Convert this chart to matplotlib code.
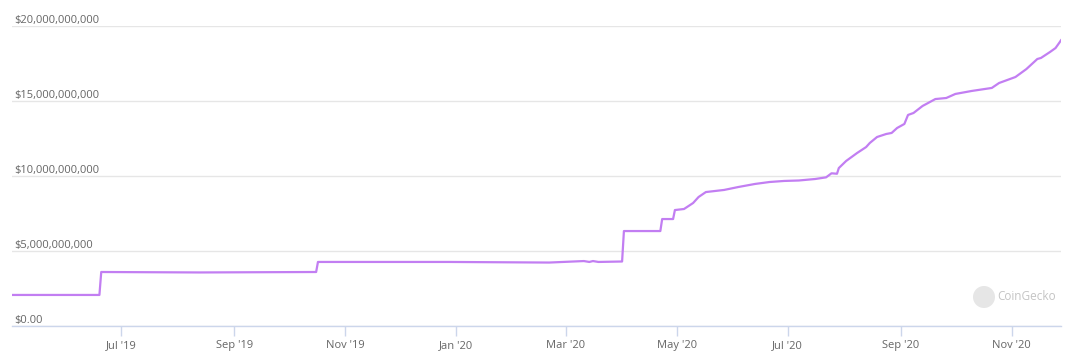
import matplotlib
matplotlib.use("Agg")
import matplotlib.pyplot as plt
import matplotlib.dates as mdates
from matplotlib.patches import Circle
import pandas as pd

# values (billions USD)
dates = [
    "2019-05-02", "2019-06-19", "2019-06-20", "2019-08-13", "2019-10-16",
    "2019-10-17", "2019-12-28", "2020-02-21", "2020-03-11", "2020-03-14",
    "2020-03-16", "2020-03-19", "2020-04-01", "2020-04-02", "2020-04-22",
    "2020-04-23", "2020-04-29", "2020-04-30", "2020-05-05", "2020-05-10",
    "2020-05-13", "2020-05-17", "2020-05-22", "2020-05-27", "2020-06-04",
    "2020-06-13", "2020-06-21", "2020-06-29", "2020-07-07", "2020-07-16",
    "2020-07-22", "2020-07-25", "2020-07-28", "2020-07-29", "2020-08-02",
    "2020-08-08", "2020-08-13", "2020-08-15", "2020-08-19", "2020-08-24",
    "2020-08-27", "2020-08-30", "2020-09-03", "2020-09-05", "2020-09-08",
    "2020-09-13", "2020-09-15", "2020-09-20", "2020-09-26", "2020-10-01",
    "2020-10-10", "2020-10-21", "2020-10-25", "2020-11-03", "2020-11-09",
    "2020-11-15", "2020-11-17", "2020-11-22", "2020-11-25", "2020-11-27",
    "2020-11-28",
]
values_bn = [
    2.07, 2.07, 3.60, 3.57, 3.60,
    4.27, 4.27, 4.23, 4.33, 4.27,
    4.33, 4.27, 4.30, 6.33, 6.33,
    7.13, 7.13, 7.73, 7.80, 8.20,
    8.60, 8.93, 9.00, 9.07, 9.27,
    9.47, 9.60, 9.67, 9.70, 9.80,
    9.91, 10.18, 10.15, 10.53, 11.00,
    11.53, 11.93, 12.20, 12.60, 12.80,
    12.87, 13.20, 13.47, 14.07, 14.20,
    14.67, 14.80, 15.13, 15.20, 15.47,
    15.67, 15.87, 16.20, 16.60, 17.13,
    17.80, 17.87, 18.27, 18.53, 18.87,
    19.05,
]
y_ticks = [0, 5e9, 10e9, 15e9, 20e9]

x = pd.to_datetime(dates)
y = [v * 1e9 for v in values_bn]

W, H = 1080, 359
fig = plt.figure(figsize=(W / 100, H / 100), dpi=100)
ax = fig.add_axes([12 / W, 33 / H, (1061 - 12) / W, 300 / H])

ax.plot(x, y, color="#c27ef2", lw=1.6, solid_joinstyle="round")

ax.set_xlim(pd.Timestamp("2019-05-02"), pd.Timestamp("2020-11-28"))
ax.set_ylim(0, 20e9)

# gridlines + labels sitting on top of them
ax.set_yticks(y_ticks)
ax.yaxis.grid(True, color="#e6e6e6", lw=1)
ax.set_axisbelow(True)
ax.tick_params(axis="y", length=0, labelleft=False)
for v in y_ticks:
    lab = "$0.00" if v == 0 else "${:,.0f}".format(v)
    ax.text(0.002, v, lab, transform=ax.get_yaxis_transform(),
            ha="left", va="bottom", fontsize=8, color="#666666",
            family="Open Sans")

for s in ["top", "right", "left"]:
    ax.spines[s].set_visible(False)
ax.spines["bottom"].set_color("#ccd6eb")
ax.spines["bottom"].set_linewidth(1)

ax.xaxis.set_major_locator(mdates.MonthLocator(bymonth=[1, 3, 5, 7, 9, 11]))
ax.xaxis.set_major_formatter(mdates.DateFormatter("%b '%y"))
ax.tick_params(axis="x", length=7, width=1, color="#ccd6eb", labelsize=8,
               labelcolor="#666666", pad=3)
# drop the May '19 tick at the left edge
ticks = [t for t in ax.get_xticks() if t > mdates.date2num(pd.Timestamp("2019-06-01"))]
ax.set_xticks(ticks)
for t in ax.get_xticklabels():
    t.set_family("Open Sans")

# watermark
fig.add_artist(Circle((984 / 100, (H - 297) / 100), 0.11, transform=fig.dpi_scale_trans,
                      facecolor="#e6e6e6", edgecolor="none"))
fig.text(997 / W, 1 - 297 / H, "CoinGecko", ha="left", va="center", fontsize=8.5,
         color="#c4c4c4", family="Open Sans")

fig.savefig("out.png", dpi=100)
